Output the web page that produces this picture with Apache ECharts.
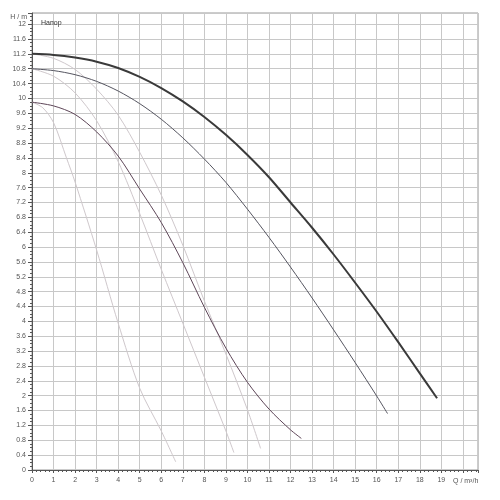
<!DOCTYPE html>
<html><head><meta charset="utf-8">
<script src="https://cdn.jsdelivr.net/npm/echarts@6/dist/echarts.min.js"></script>
<style>html,body{margin:0;padding:0;background:#fff}#c{width:500px;height:500px}</style>
</head><body><div id="c"></div>
<script>
// Flow Q (m³/h) and head H (m)
const q1 = [0,1,2,3,4,5,6,7,8,9,10,11,12,13,14,15,16,17,18,18.8];
const h1 = [11.2,11.17,11.1,10.99,10.82,10.58,10.28,9.92,9.5,9.02,8.48,7.88,7.2,6.52,5.8,5.04,4.26,3.44,2.6,1.93];
const q2 = [0,1,2,3,4,5,6,7,8,9,10,11,12,13,14,15,16,16.5];
const h2 = [10.8,10.75,10.64,10.46,10.2,9.86,9.44,8.94,8.37,7.74,7.02,6.26,5.46,4.63,3.77,2.89,1.99,1.52];
const q3 = [0,1,2,3,4,5,6,7,8,9,10,11,12,12.5];
const h3 = [9.9,9.8,9.57,9.1,8.45,7.56,6.66,5.58,4.38,3.28,2.36,1.64,1.08,0.85];
const qL1 = [0,1,2,3,4,5,6,7,8,9,10,10.61];
const hL1 = [11.2,11.08,10.78,10.25,9.55,8.55,7.4,6.05,4.55,3.12,1.62,0.58];
const qL2 = [0,1,2,3,4,5,6,7,8,9,9.37];
const hL2 = [10.8,10.6,10.15,9.4,8.3,6.9,5.4,3.95,2.5,1.05,0.47];
const qL3 = [0,0.5,1,1.6,2,3,4,5,6,6.67];
const hL3 = [9.9,9.75,9.35,8.4,7.75,5.92,3.95,2.2,1.05,0.22];
const yAxisName = 'H / m';
const xAxisName = 'Q / m³/h';
const curveTitle = 'Напор';

const pairs = (qs, hs) => qs.map((q, i) => [q, hs[i]]);
const mk = (qs, hs, color, width, z) => ({
  type: 'line', data: pairs(qs, hs), showSymbol: false, smooth: 0.3, silent: true, z: z,
  lineStyle: { color: color, width: width }
});
const axisFont = { fontFamily: 'Liberation Sans', fontSize: 7, color: '#555' };

const chart = echarts.init(document.getElementById('c'), null, { renderer: 'canvas' });
chart.setOption({
  animation: false,
  backgroundColor: '#fff',
  title: { text: curveTitle, left: 36, top: 15, textStyle: { fontFamily: 'Liberation Sans', fontSize: 7, fontWeight: 'normal', color: '#333' } },
  grid: { left: 32, top: 13, right: 22, bottom: 30, show: true, borderColor: '#999', borderWidth: 1 },
  xAxis: {
    type: 'value', min: 0, max: 20.7, interval: 1,
    name: xAxisName, nameLocation: 'end', nameGap: -25,
    nameTextStyle: Object.assign({ verticalAlign: 'top', padding: [8, 0, 0, 0] }, axisFont),
    axisLine: { lineStyle: { color: '#555' } },
    axisTick: { length: 3, lineStyle: { color: '#555' } },
    minorTick: { show: true, splitNumber: 5, length: 2, lineStyle: { color: '#555' } },
    axisLabel: Object.assign({ margin: 7, formatter: v => (v > 19.5 ? '' : String(v)) }, axisFont),
    splitLine: { lineStyle: { color: '#c8c8c8' } }
  },
  yAxis: {
    type: 'value', min: 0, max: 12.3, interval: 0.4,
    name: yAxisName, nameLocation: 'end', nameGap: -4,
    nameTextStyle: Object.assign({ align: 'right', verticalAlign: 'middle', padding: [0, 5, 0, 0] }, axisFont),
    axisLine: { lineStyle: { color: '#555' } },
    axisTick: { length: 4, lineStyle: { color: '#555' } },
    minorTick: { show: true, splitNumber: 4, length: 2, lineStyle: { color: '#555' } },
    axisLabel: Object.assign({ margin: 6, formatter: v => (v > 12.05 ? '' : String(+v.toFixed(1))) }, axisFont),
    splitLine: { lineStyle: { color: '#c8c8c8' } }
  },
  series: [
    mk(qL1, hL1, '#cfc8cc', 1, 1),
    mk(qL2, hL2, '#cfc8cc', 1, 1),
    mk(qL3, hL3, '#cfc8cc', 1, 1),
    mk(q3, h3, '#5e4658', 1, 2),
    mk(q2, h2, '#555560', 1, 2),
    mk(q1, h1, '#3a3a3a', 2, 3)
  ]
});
</script></body></html>
